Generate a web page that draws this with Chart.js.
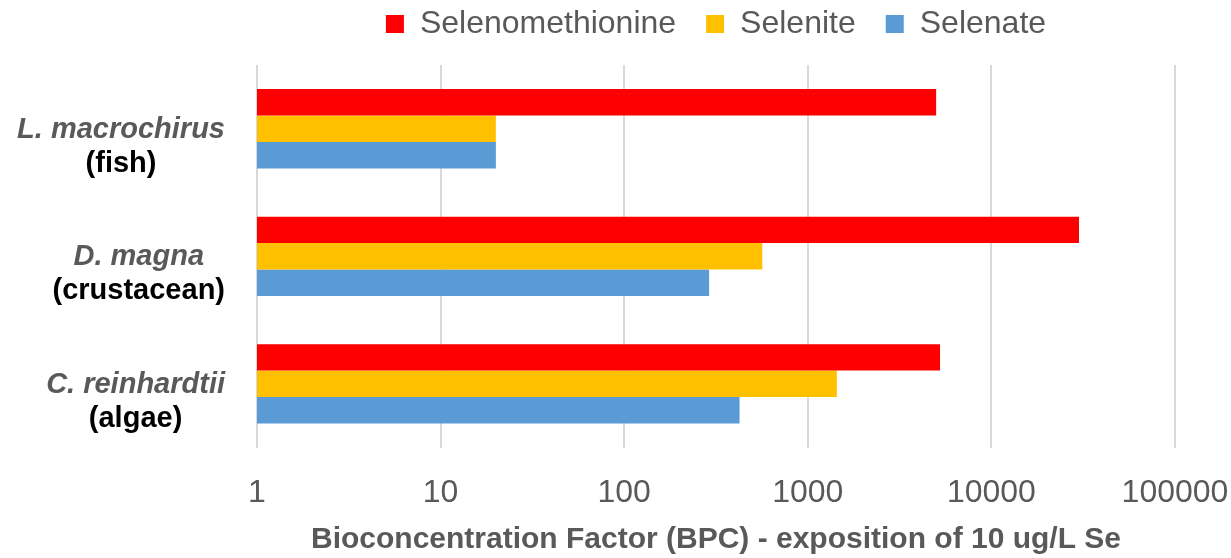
<!DOCTYPE html>
<html>
<head>
<meta charset="utf-8">
<title>Bioconcentration Factor</title>
<script src="https://cdn.jsdelivr.net/npm/chart.js@4.4.0/dist/chart.umd.min.js"></script>
<style>
  html, body { margin: 0; padding: 0; background: #fff; }
  #wrap { width: 1231px; height: 558px; }
</style>
</head>
<body>
<div id="wrap"><canvas id="bcfChart" width="1231" height="558"></canvas></div>
<script>
// species (first label line) and organism group (second label line)
const species = ['L. macrochirus', 'D. magna', 'C. reinhardtii'];
const groups = ['(fish)', '(crustacean)', '(algae)'];

const selenomethionine = [5000, 30000, 5250];
const selenite = [20, 565, 1440];
const selenate = [20, 290, 425];

const xTicks = [1, 10, 100, 1000, 10000, 100000];

const FONT = "'Liberation Sans', Arial, sans-serif";
const GREY = '#595959';

// extra gap between the legend row and the plot
const legendGap = {
  id: 'legendGap',
  beforeInit(chart) {
    const fit = chart.legend.fit;
    chart.legend.fit = function () {
      fit.bind(chart.legend)();
      this.height += 15;
    };
  }
};

// two-line category labels: italic species name over the bold group name
const speciesLabels = {
  id: 'speciesLabels',
  afterDraw(chart) {
    const { ctx } = chart;
    const y = chart.scales.y;
    const right = chart.chartArea.left - 32;
    ctx.save();
    ctx.textBaseline = 'middle';
    ctx.textAlign = 'center';
    species.forEach((name, i) => {
      const cy = y.getPixelForValue(i);
      ctx.font = `italic bold 29px ${FONT}`;
      const w1 = ctx.measureText(name).width;
      ctx.font = `bold 29px ${FONT}`;
      const w2 = ctx.measureText(groups[i]).width;
      const cx = right - Math.max(w1, w2) / 2;
      ctx.font = `italic bold 29px ${FONT}`;
      ctx.fillStyle = GREY;
      ctx.fillText(name, cx, cy + 1);
      ctx.font = `bold 29px ${FONT}`;
      ctx.fillStyle = '#000';
      ctx.fillText(groups[i], cx, cy + 35);
    });
    ctx.restore();
  }
};

new Chart(document.getElementById('bcfChart'), {
  type: 'bar',
  data: {
    labels: species,
    datasets: [
      { label: 'Selenomethionine', data: selenomethionine, backgroundColor: '#FF0000' },
      { label: 'Selenite', data: selenite, backgroundColor: '#FFC000' },
      { label: 'Selenate', data: selenate, backgroundColor: '#5B9BD5' }
    ]
  },
  options: {
    indexAxis: 'y',
    responsive: false,
    animation: false,
    categoryPercentage: 0.622,
    barPercentage: 1.0,
    layout: { padding: { left: 257, right: 56, top: -22, bottom: 0 } },
    plugins: {
      tooltip: { enabled: false },
      legend: {
        position: 'top',
        labels: {
          boxWidth: 18, boxHeight: 18, padding: 30,
          color: GREY,
          font: { family: FONT, size: 32 }
        }
      }
    },
    scales: {
      x: {
        type: 'logarithmic',
        min: 1, max: 100000,
        afterBuildTicks: scale => { scale.ticks = xTicks.map(v => ({ value: v })); },
        afterFit: scale => { scale.paddingLeft = 0; scale.paddingRight = 0; },
        grid: { color: '#D9D9D9', lineWidth: 2, drawTicks: false },
        border: { display: false },
        ticks: {
          padding: 26,
          color: GREY,
          font: { family: FONT, size: 32 },
          maxRotation: 0,
          callback: v => String(v)
        },
        title: {
          display: true,
          text: 'Bioconcentration Factor (BPC) - exposition of 10 ug/L Se',
          color: GREY,
          font: { family: FONT, size: 30, weight: 'bold' },
          padding: { top: -16, bottom: 0 }
        }
      },
      y: {
        display: false
      }
    }
  },
  plugins: [legendGap, speciesLabels]
});
</script>
</body>
</html>
